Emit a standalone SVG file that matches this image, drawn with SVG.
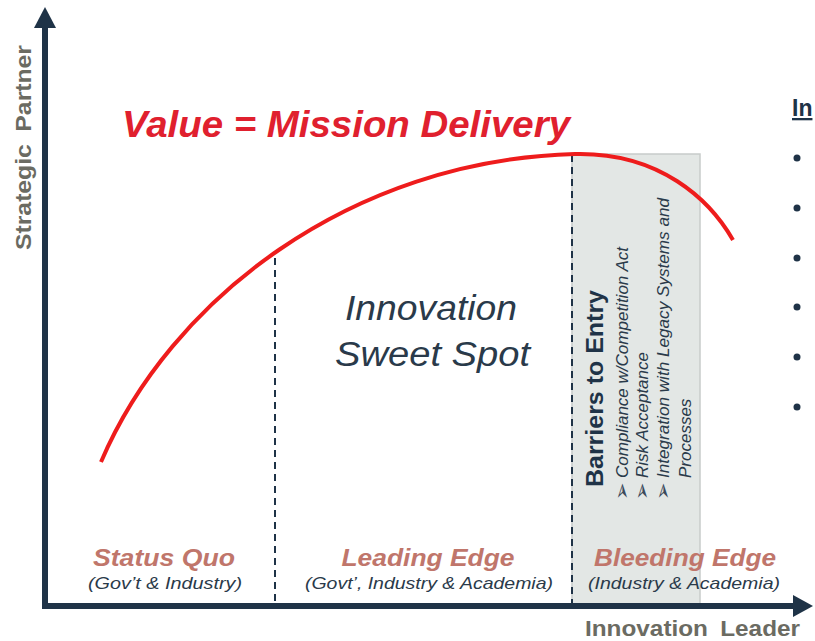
<svg xmlns="http://www.w3.org/2000/svg" width="815" height="641" viewBox="0 0 815 641">
<style>
.ax{stroke:#1f3347;stroke-width:6;fill:none}
.dash{stroke:#1f3347;stroke-width:2;stroke-dasharray:7,5;fill:none}
.zone{font-family:"Liberation Sans",Arial,sans-serif;font-weight:bold;font-style:italic;font-size:24px;fill:#c0766b;text-anchor:middle}
.sub{font-family:"Liberation Sans",Arial,sans-serif;font-style:italic;font-size:17px;fill:#2a3a4a;text-anchor:middle}
.axl{font-family:"Liberation Sans",Arial,sans-serif;font-weight:bold;font-size:22px;fill:#6b6b62;word-spacing:5px}
.bul{font-family:"Liberation Sans",Arial,sans-serif;font-style:italic;font-size:17px;fill:#2a3a4a}
.arr{font-family:"DejaVu Sans",sans-serif;font-size:21px;fill:#3a4a5a}
</style>
<rect width="815" height="641" fill="#ffffff"/>
<g id="bleeding-zone">
<rect x="572" y="154" width="128" height="452" fill="#e3e7e5" stroke="#c8ccca" stroke-width="1.5"/>
</g>
<g id="connectors">
<line class="dash" x1="275" y1="258" x2="275" y2="604"/>
<line class="dash" x1="572" y1="155" x2="572" y2="604"/>
<path d="M101,462 C170,300 350,160 575,154 C660,152 710,200 733,240" stroke="#ee1c1c" stroke-width="4" fill="none"/>
<line class="ax" x1="45" y1="606" x2="45" y2="24"/>
<polygon points="45,7 34,28 56,28" fill="#1f3347"/>
<line class="ax" x1="42" y1="606" x2="796" y2="606"/>
<polygon points="813,606 793,595 793,617" fill="#1f3347"/>
</g>
<g id="title">
<text x="122" y="137" textLength="448" lengthAdjust="spacingAndGlyphs" font-family="Liberation Sans,Arial,sans-serif" font-weight="bold" font-style="italic" font-size="36" fill="#e0202e">Value = Mission Delivery</text>
</g>
<g id="sweet-spot">
<text x="345" y="320" textLength="172" lengthAdjust="spacingAndGlyphs" font-family="Liberation Sans,Arial,sans-serif" font-style="italic" font-size="35" fill="#2a3a4a">Innovation</text>
<text x="335" y="366" textLength="195" lengthAdjust="spacingAndGlyphs" font-family="Liberation Sans,Arial,sans-serif" font-style="italic" font-size="35" fill="#2a3a4a">Sweet Spot</text>
</g>
<g id="barriers">
<text transform="translate(603,487) rotate(-90)" textLength="197" lengthAdjust="spacingAndGlyphs" font-family="Liberation Sans,Arial,sans-serif" font-weight="bold" font-size="24" fill="#1f3347">Barriers to Entry</text>
<text class="arr" transform="translate(629,500) rotate(-90)">➢</text>
<text class="arr" transform="translate(649,500) rotate(-90)">➢</text>
<text class="arr" transform="translate(670,500) rotate(-90)">➢</text>
<text class="bul" transform="translate(628,478) rotate(-90)" textLength="231" lengthAdjust="spacingAndGlyphs">Compliance w/Competition Act</text>
<text class="bul" transform="translate(648,478) rotate(-90)">Risk Acceptance</text>
<text class="bul" transform="translate(669,478) rotate(-90)" textLength="280" lengthAdjust="spacingAndGlyphs">Integration with Legacy Systems and</text>
<text class="bul" transform="translate(691,478) rotate(-90)">Processes</text>
</g>
<g id="status-quo">
<text class="zone" x="164" y="566" textLength="142" lengthAdjust="spacingAndGlyphs">Status Quo</text>
<text class="sub" x="165" y="589" textLength="154" lengthAdjust="spacingAndGlyphs">(Gov’t &amp; Industry)</text>
</g>
<g id="leading-edge">
<text class="zone" x="428" y="566" textLength="173" lengthAdjust="spacingAndGlyphs">Leading Edge</text>
<text class="sub" x="429" y="589" textLength="248" lengthAdjust="spacingAndGlyphs">(Govt’, Industry &amp; Academia)</text>
</g>
<g id="bleeding-edge">
<text class="zone" x="685" y="566" textLength="182" lengthAdjust="spacingAndGlyphs">Bleeding Edge</text>
<text class="sub" x="684" y="589" textLength="192" lengthAdjust="spacingAndGlyphs">(Industry &amp; Academia)</text>
</g>
<g id="axis-labels">
<text class="axl" x="585" y="636" textLength="215" lengthAdjust="spacingAndGlyphs">Innovation Leader</text>
<text class="axl" transform="translate(31,250) rotate(-90)" textLength="205" lengthAdjust="spacingAndGlyphs">Strategic Partner</text>
</g>
<g id="side-list">
<text x="792" y="116" font-family="Liberation Sans,Arial,sans-serif" font-weight="bold" font-size="23" fill="#1f3347" text-decoration="underline">In</text>
<circle cx="797" cy="158" r="3.5" fill="#1f3347"/>
<circle cx="797" cy="208" r="3.5" fill="#1f3347"/>
<circle cx="797" cy="258" r="3.5" fill="#1f3347"/>
<circle cx="797" cy="307" r="3.5" fill="#1f3347"/>
<circle cx="797" cy="357" r="3.5" fill="#1f3347"/>
<circle cx="797" cy="407" r="3.5" fill="#1f3347"/>
</g>
</svg>
